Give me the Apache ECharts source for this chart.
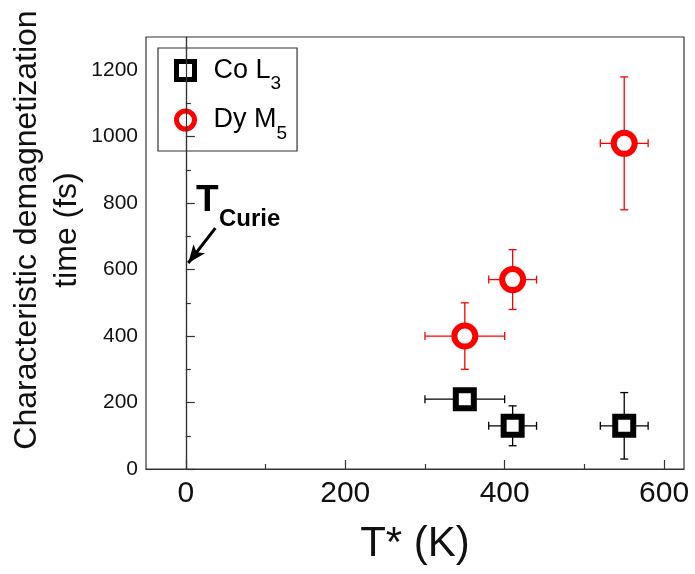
<!DOCTYPE html>
<html>
<head>
<meta charset="utf-8">
<script src="https://cdn.jsdelivr.net/npm/echarts@6/dist/echarts.min.js"></script>
<style>
  html, body { margin: 0; padding: 0; background: #fff; }
  #chart { width: 695px; height: 574px; }
</style>
</head>
<body>
<div id="chart"></div>
<script>
// Co L3 edge: temperature T* (K), demagnetization time (fs), and their uncertainties
const coT = [350, 410, 550];
const coTau = [210, 130, 130];
const coTErr = [50, 30, 30];
const coTauErr = [0, 60, 100];

// Dy M5 edge
const dyT = [350, 410, 550];
const dyTau = [400, 570, 980];
const dyTErr = [50, 30, 30];
const dyTauErr = [100, 90, 200];

// Axis ticks
const xMajorTicks = [0, 200, 400, 600];
const xMinorTicks = [100, 300, 500];
const yMajorTicks = [0, 200, 400, 600, 800, 1000, 1200];
const yMinorTicks = [100, 300, 500, 700, 900, 1100];

// Curie temperature marker and its arrow (data coordinates)
const curieT = 0;
const arrowFrom = [37, 725];
const arrowTo = [3, 620];

const FONT = 'Liberation Sans, Arial, sans-serif';

function rows(xs, ys, dxs, dys) {
  return xs.map((x, i) => [x, ys[i], dxs[i], dys[i]]);
}

function errorBarSeries(name, data, color) {
  return {
    type: 'custom',
    name: name + ' err',
    xAxisIndex: 0,
    yAxisIndex: 0,
    z: 1,
    silent: true,
    data: data,
    renderItem: function (params, api) {
      const x = api.value(0), y = api.value(1), dx = api.value(2), dy = api.value(3);
      const cap = 4;
      const style = { stroke: color, lineWidth: 1.3 };
      const children = [];
      if (dx > 0) {
        const l = api.coord([x - dx, y]);
        const r = api.coord([x + dx, y]);
        children.push({ type: 'line', shape: { x1: l[0], y1: l[1], x2: r[0], y2: r[1] }, style: style });
        children.push({ type: 'line', shape: { x1: l[0], y1: l[1] - cap, x2: l[0], y2: l[1] + cap }, style: style });
        children.push({ type: 'line', shape: { x1: r[0], y1: r[1] - cap, x2: r[0], y2: r[1] + cap }, style: style });
      }
      if (dy > 0) {
        const t = api.coord([x, y + dy]);
        const b = api.coord([x, y - dy]);
        children.push({ type: 'line', shape: { x1: t[0], y1: t[1], x2: b[0], y2: b[1] }, style: style });
        children.push({ type: 'line', shape: { x1: t[0] - cap, y1: t[1], x2: t[0] + cap, y2: t[1] }, style: style });
        children.push({ type: 'line', shape: { x1: b[0] - cap, y1: b[1], x2: b[0] + cap, y2: b[1] }, style: style });
      }
      return { type: 'group', children: children };
    }
  };
}

const chart = echarts.init(document.getElementById('chart'), null, { renderer: 'canvas' });

const legendRich = {
  a: { fontSize: 27, fontFamily: FONT, color: '#000', lineHeight: 30, padding: [0, 0, 0, 14] },
  s: { fontSize: 19, fontFamily: FONT, color: '#000', lineHeight: 30, verticalAlign: 'bottom', padding: [0, 0, -8, 0] }
};

const option = {
  backgroundColor: '#fff',
  animation: false,
  grid: {
    left: 146, right: 11, top: 37, bottom: 105,
    show: true, borderColor: '#333', borderWidth: 1.2, backgroundColor: 'transparent'
  },
  legend: {
    orient: 'vertical',
    left: 158,
    top: 48,
    padding: [9, 10, 8, 16],
    itemGap: 13,
    itemWidth: 18,
    itemHeight: 18,
    borderColor: '#333',
    borderWidth: 1.2,
    selectedMode: false,
    data: [
      { name: 'Co L3', icon: 'rect', itemStyle: { color: '#fff', borderColor: '#000', borderWidth: 5, opacity: 1 } },
      { name: 'Dy M5', icon: 'circle', itemStyle: { color: '#fff', borderColor: '#ff0000', borderWidth: 5, opacity: 1 } }
    ],
    formatter: function (name) {
      const parts = name.split(' ');
      const base = parts[0] + ' ' + parts[1].slice(0, -1);
      const sub = parts[1].slice(-1);
      return '{a|' + base + '}{s|' + sub + '}';
    },
    textStyle: { rich: legendRich }
  },
  xAxis: [
    {
      type: 'value',
      min: -50,
      max: 625,
      position: 'bottom',
      name: 'T* (K)',
      nameLocation: 'middle',
      nameGap: 54,
      nameTextStyle: { fontSize: 42, fontFamily: FONT, color: '#111' },
      axisLine: { show: true, lineStyle: { color: '#333', width: 1.2 } },
      axisTick: { show: true, inside: true, length: 9, customValues: xMajorTicks, lineStyle: { color: '#333', width: 1.2 } },
      axisLabel: { show: true, customValues: xMajorTicks, fontSize: 30, fontFamily: FONT, color: '#111', margin: 10, formatter: v => String(v) },
      splitLine: { show: false }
    },
    {
      type: 'value',
      min: -50,
      max: 625,
      position: 'bottom',
      axisLine: { show: false },
      axisTick: { show: true, inside: true, length: 5, customValues: xMinorTicks, lineStyle: { color: '#333', width: 1.2 } },
      axisLabel: { show: false },
      splitLine: { show: false }
    }
  ],
  yAxis: [
    {
      type: 'value',
      min: 0,
      max: 1300,
      position: 'left',
      axisLine: { show: true, lineStyle: { color: '#333', width: 1.2 } },
      axisTick: { show: true, inside: true, length: 9, customValues: yMajorTicks, lineStyle: { color: '#333', width: 1.2 } },
      axisLabel: { show: true, customValues: yMajorTicks, fontSize: 21, fontFamily: FONT, color: '#111', margin: 8, formatter: v => String(v) },
      splitLine: { show: false }
    },
    {
      type: 'value',
      min: 0,
      max: 1300,
      position: 'left',
      axisLine: { show: false },
      axisTick: { show: true, inside: true, length: 5, customValues: yMinorTicks, lineStyle: { color: '#333', width: 1.2 } },
      axisLabel: { show: false },
      splitLine: { show: false }
    }
  ],
  graphic: [
    {
      type: 'text',
      x: 47,
      y: 230,
      rotation: Math.PI / 2,
      style: {
        text: 'Characteristic demagnetization\ntime (fs)',
        fontSize: 32,
        fontFamily: FONT,
        fill: '#111',
        lineHeight: 40,
        align: 'center',
        verticalAlign: 'middle'
      }
    },
    {
      type: 'text',
      x: 196,
      y: 201,
      style: { text: 'T', fontSize: 37, fontWeight: 'bold', fontFamily: FONT, fill: '#000', align: 'left', verticalAlign: 'middle' }
    },
    {
      type: 'text',
      x: 219,
      y: 219,
      style: { text: 'Curie', fontSize: 24, fontWeight: 'bold', fontFamily: FONT, fill: '#000', align: 'left', verticalAlign: 'middle' }
    }
  ],
  series: [
    errorBarSeries('Co L3', rows(coT, coTau, coTErr, coTauErr), '#000'),
    errorBarSeries('Dy M5', rows(dyT, dyTau, dyTErr, dyTauErr), '#ff0000'),
    {
      type: 'scatter',
      name: 'Co L3',
      z: 3,
      symbol: 'rect',
      symbolSize: 18,
      itemStyle: { color: '#fff', borderColor: '#000', borderWidth: 6, opacity: 1 },
      data: coT.map((x, i) => [x, coTau[i]]),
      markLine: {
        silent: true,
        animation: false,
        label: { show: false },
        data: [
          [
            { coord: [curieT, 0], symbol: 'none' },
            { coord: [curieT, 1300], symbol: 'none' }
          ],
          [
            { coord: arrowFrom, symbol: 'none', lineStyle: { color: '#000', width: 3, type: 'solid' } },
            { coord: arrowTo, symbol: 'arrow', symbolSize: [11, 18], lineStyle: { color: '#000', width: 3, type: 'solid' } }
          ]
        ],
        lineStyle: { color: '#333', width: 1.2, type: 'solid' }
      }
    },
    {
      type: 'scatter',
      name: 'Dy M5',
      z: 3,
      symbol: 'circle',
      symbolSize: 21,
      itemStyle: { color: '#fff', borderColor: '#ff0000', borderWidth: 6, opacity: 1 },
      data: dyT.map((x, i) => [x, dyTau[i]])
    }
  ]
};

chart.setOption(option);
</script>
</body>
</html>
